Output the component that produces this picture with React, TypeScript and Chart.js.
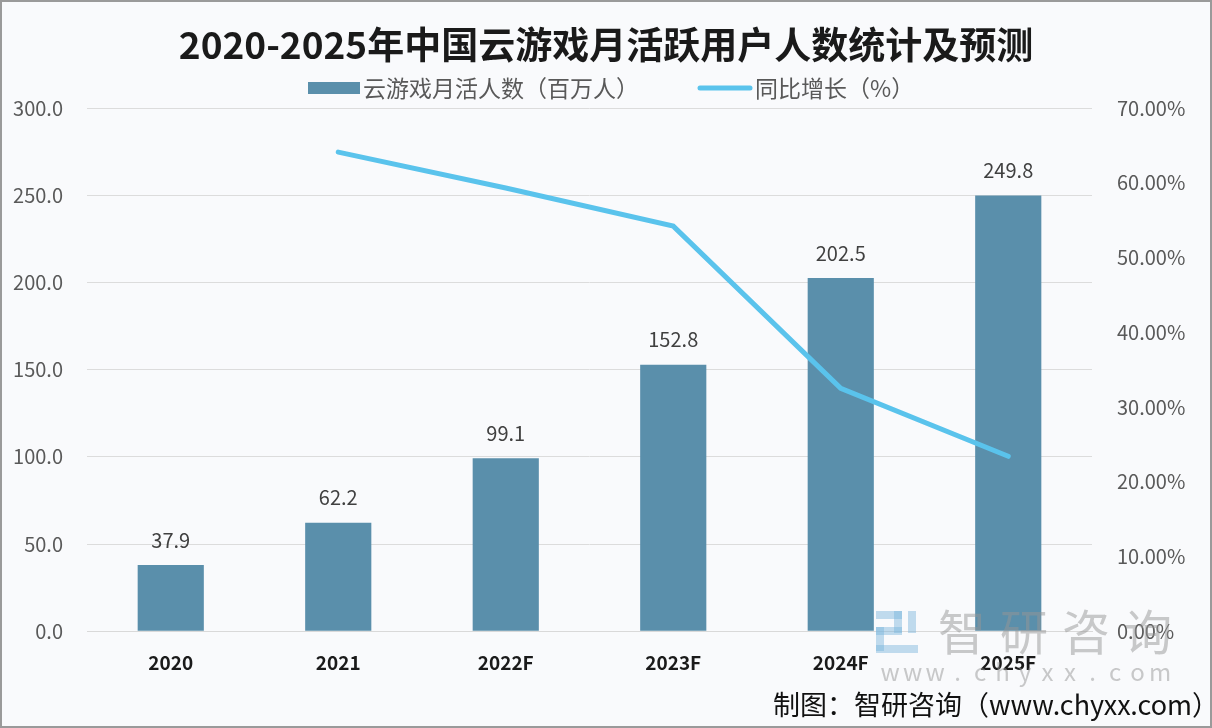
import React, { useEffect, useRef } from "react";
import { Chart, registerables } from "chart.js";

Chart.register(...registerables);

const categories = ["2020", "2021", "2022F", "2023F", "2024F", "2025F"];
const users = [37.9, 62.2, 99.1, 152.8, 202.5, 249.8];
const growth = [null, 64.1, 59.3, 54.2, 32.5, 23.4];
const titleText = "2020-2025年中国云游戏月活跃用户人数统计及预测";
const barLabel = "云游戏月活人数（百万人）";
const lineLabel = "同比增长（%）";
const sourceText = "制图：智研咨询（www.chyxx.com）";
const watermarkChars = ["智", "研", "咨", "询"];
const watermarkUrl = "www.chyxx.com";

const FONT = '"Noto Sans CJK SC", "Noto Sans", sans-serif';
const BAR_COLOR = "#5a8fab";
const LINE_COLOR = "#5ac3ec";

const decorPlugin = {
  id: "decor",
  afterDatasetsDraw(chart: any) {
    const ctx = chart.ctx;
    const meta = chart.getDatasetMeta(0);
    ctx.save();
    ctx.font = `20px ${FONT}`;
    ctx.fillStyle = "#404040";
    ctx.textAlign = "center";
    ctx.textBaseline = "middle";
    meta.data.forEach((bar: any, i: number) => {
      ctx.fillText(users[i].toFixed(1), bar.x, bar.y - 25);
    });
    ctx.restore();
  },
  afterDraw(chart: any) {
    const ctx = chart.ctx;
    const w = chart.width;
    const h = chart.height;
    ctx.save();
    // title
    ctx.fillStyle = "#1a1a1a";
    ctx.font = `bold 37px ${FONT}`;
    ctx.textAlign = "center";
    ctx.textBaseline = "middle";
    ctx.fillText(titleText, w / 2, 43);
    // legend
    ctx.font = `23px ${FONT}`;
    ctx.textAlign = "left";
    ctx.fillStyle = BAR_COLOR;
    ctx.fillRect(306, 80, 52, 12);
    ctx.fillStyle = "#595959";
    ctx.fillText(barLabel, 361, 86);
    ctx.strokeStyle = LINE_COLOR;
    ctx.lineWidth = 5;
    ctx.lineCap = "round";
    ctx.beginPath();
    ctx.moveTo(698, 86);
    ctx.lineTo(748, 86);
    ctx.stroke();
    ctx.fillText(lineLabel, 753, 86);
    // watermark
    ctx.fillStyle = "rgba(150,150,150,0.5)";
    ctx.font = `48px ${FONT}`;
    ctx.textAlign = "center";
    watermarkChars.forEach((c, i) => {
      ctx.fillText(c, 960 + i * 62, 630);
    });
    ctx.font = `24px ${FONT}`;
    watermarkUrl.split("").forEach((c, i) => {
      ctx.fillText(c, 888 + i * 22.5, 670);
    });
    ctx.fillStyle = "rgba(120,180,220,0.45)";
    ctx.fillRect(874, 609, 26, 8);
    ctx.fillRect(892, 609, 8, 22);
    ctx.fillRect(874, 625, 26, 8);
    ctx.fillRect(874, 625, 8, 24);
    ctx.fillRect(874, 643, 42, 8);
    ctx.fillRect(906, 609, 8, 22);
    // source
    ctx.fillStyle = "#111111";
    ctx.font = `27px ${FONT}`;
    ctx.textAlign = "right";
    ctx.fillText(sourceText, w + 9, h - 21);
    ctx.restore();
  },
};

export default function App() {
  const ref = useRef<HTMLCanvasElement | null>(null);
  useEffect(() => {
    if (!ref.current) return;
    const chart = new Chart(ref.current, {
      data: {
        labels: categories,
        datasets: [
          {
            type: "bar",
            label: barLabel,
            data: users,
            backgroundColor: BAR_COLOR,
            borderWidth: 0,
            barPercentage: 0.395,
            categoryPercentage: 1,
            yAxisID: "y",
            order: 2,
          } as any,
          {
            type: "line",
            label: lineLabel,
            data: growth,
            borderColor: LINE_COLOR,
            backgroundColor: LINE_COLOR,
            borderWidth: 5,
            borderCapStyle: "round",
            pointRadius: 0,
            yAxisID: "y1",
            order: 1,
            spanGaps: false,
          } as any,
        ],
      },
      options: {
        animation: false,
        responsive: false,
        maintainAspectRatio: false,
        layout: { padding: { left: 8, right: 8, top: 106, bottom: 40 } },
        plugins: {
          title: { display: false },
          legend: { display: false },
          tooltip: { enabled: false },
        },
        scales: {
          x: {
            grid: { display: false },
            border: { color: "#d9d9d9" },
            ticks: {
              color: "#1a1a1a",
              font: { family: FONT, size: 19, weight: "bold" },
              padding: 12,
            },
          },
          y: {
            position: "left",
            min: 0,
            max: 300,
            grid: { color: "#dcdcdc", drawTicks: false },
            border: { display: false },
            afterFit: (s: any) => {
              s.width = 77;
            },
            ticks: {
              stepSize: 50,
              color: "#595959",
              font: { family: FONT, size: 20 },
              padding: 24,
              callback: (v: any) => Number(v).toFixed(1),
            },
          },
          y1: {
            position: "right",
            min: 0,
            max: 70,
            grid: { display: false, drawTicks: false },
            border: { display: false },
            afterFit: (s: any) => {
              s.width = 110;
            },
            ticks: {
              stepSize: 10,
              color: "#595959",
              font: { family: FONT, size: 20 },
              padding: 25,
              callback: (v: any) => Number(v).toFixed(2) + "%",
            },
          },
        },
      } as any,
      plugins: [decorPlugin],
    });
    return () => chart.destroy();
  }, []);
  return (
    <div
      style={{
        position: "absolute",
        left: 0,
        top: 0,
        width: 1212,
        height: 728,
        boxSizing: "border-box",
        border: "2px solid #9a9a9a",
        background: "#f9fafc",
        overflow: "hidden",
      }}
    >
      <canvas ref={ref} width={1208} height={724} style={{ display: "block" }} />
    </div>
  );
}
